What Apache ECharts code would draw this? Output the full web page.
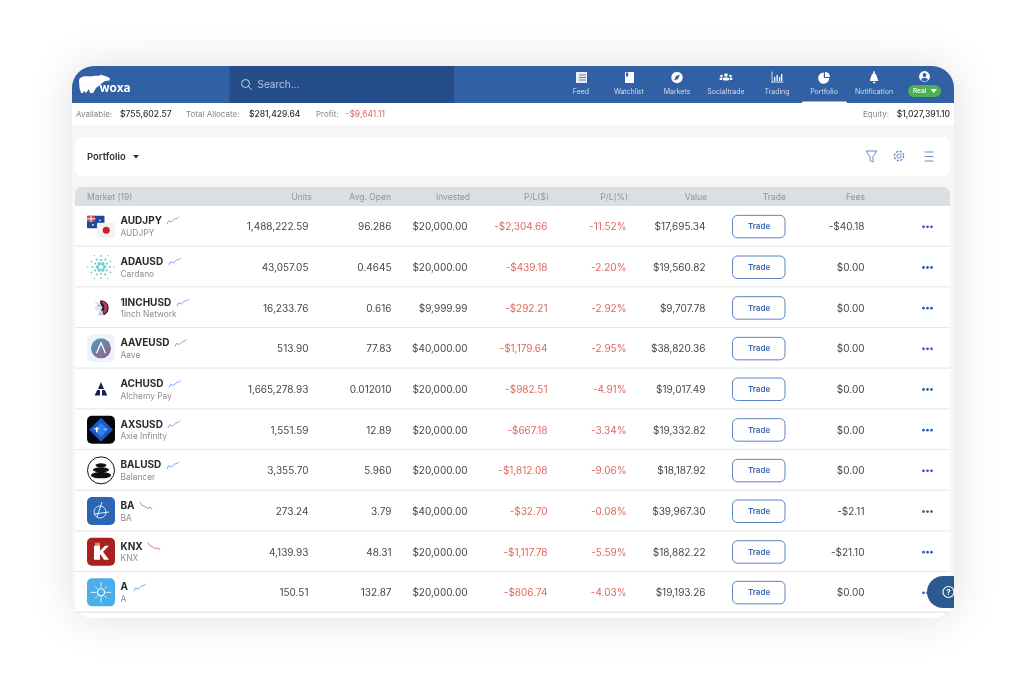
<!DOCTYPE html>
<html><head><meta charset="utf-8"><title>Portfolio</title>
<style>html,body{margin:0;padding:0;background:#fff}#c{width:1026px;height:696px}</style>
<script src="https://cdn.jsdelivr.net/npm/echarts@6/dist/echarts.min.js"></script></head>
<body><div id="c"></div>
<script>
const symbols=['AUDJPY','ADAUSD','1INCHUSD','AAVEUSD','ACHUSD','AXSUSD','BALUSD','BA','KNX','A'];
const fullNames=['AUDJPY','Cardano','1inch Network','Aave','Alchemy Pay','Axie Infinity','Balancer','BA','KNX','A'];
const units=['1,488,222.59','43,057.05','16,233.76','513.90','1,665,278.93','1,551.59','3,355.70','273.24','4,139.93','150.51'];
const avgOpen=['96.286','0.4645','0.616','77.83','0.012010','12.89','5.960','3.79','48.31','132.87'];
const invested=['$20,000.00','$20,000.00','$9,999.99','$40,000.00','$20,000.00','$20,000.00','$20,000.00','$40,000.00','$20,000.00','$20,000.00'];
const plUsd=['-$2,304.66','-$439.18','-$292.21','-$1,179.64','-$982.51','-$667.18','-$1,812.08','-$32.70','-$1,117.78','-$806.74'];
const plPct=['-11.52%','-2.20%','-2.92%','-2.95%','-4.91%','-3.34%','-9.06%','-0.08%','-5.59%','-4.03%'];
const marketValue=['$17,695.34','$19,560.82','$9,707.78','$38,820.36','$19,017.49','$19,332.82','$18,187.92','$39,967.30','$18,882.22','$19,193.26'];
const fees=['-$40.18','$0.00','$0.00','$0.00','$0.00','$0.00','$0.00','-$2.11','-$21.10','$0.00'];
const trendUp=[0.8,3.2,4.2,2.4,3.8,4.5,3.2,5.2,6.4];
const trendDown=[6.4,4.4,5.0,3.2,4.3,2.0,3.2,2.4,0.8];
const rowTrend=['up','up','up','up','up','up','up','down','down','up'];
const navLabels=['Feed','Watchlist','Markets','Socialtrade','Trading','Portfolio','Notification'];
const tableHeaders=['Units','Avg. Open','Invested','P/L($)','P/L(%)','Value','Trade','Fees'];

// layout (separate from the data)
const FONT='Inter';
const headerRight=[312,391,470,549,628,707,786,865];
const cellRight={units:308.5,avg:391.5,inv:467.5,pl:547.5,pct:626.5,val:705.5,fees:864.5};
const sparkX=[167,169,177,175,169,168,167,140,148,134];
const sparkY=[216.5,257.5,298.5,339,380,420.5,461.5,502,542.5,583.5];
const navX=[581,629,677,726,777,824,874];
const BLUE='#3160a4',NAVBLUE='#254d8a',RED='#e0685e',TXT='#474747',SUB='#8d8d8d';

function T(x,y,text,size,fill,weight,align){return{type:'text',x,y,silent:true,style:{text,fontFamily:FONT,fontSize:size,fontWeight:weight||400,fill,align:align||'left',verticalAlign:'middle'}};}
function R(x,y,w,h,fill,r,extra){return Object.assign({type:'rect',shape:{x,y,width:w,height:h,r:r||0},silent:true,style:{fill}},extra||{});}
function C(x,y,r,fill,extra){return Object.assign({type:'circle',shape:{cx:x,cy:y,r},silent:true,style:{fill}},extra||{});}
function L(x1,y1,x2,y2,stroke,w){return{type:'line',shape:{x1,y1,x2,y2},silent:true,style:{stroke,lineWidth:w||1,lineCap:'round'}};}
function P(d,fill,stroke,w){return{type:'path',shape:{pathData:d},silent:true,style:{fill:fill||'none',stroke:stroke||'none',lineWidth:w||1}};}
function PG(pts,fill){return{type:'polygon',shape:{points:pts},silent:true,style:{fill}};}

const chrome=[
 R(72,66,882,552,'#f6f6f6',22,{style:{fill:'#f6f6f6',shadowBlur:46,shadowColor:'rgba(0,0,0,0.13)'}}),
 R(75,600,875,18,'#ffffff',[0,0,16,16]),
 R(72,66,882,37,BLUE,[22,22,0,0]),
 R(229.5,66,224.5,37,NAVBLUE),
 R(72,103,882,22,'#ffffff'),
 R(802,101.6,45,1.6,'#ffffff',[1,1,0,0]),
 // logo
 P('M79 81C79 77 84 75.5 90 76.5C94 75.5 98 76 100 75.5L101 74.5L103 75.5C106 75.8 108 77 110 78.5L109.5 80.5L105 81C103 82 101 84 100 85L96 88L93 93L90 93L89 89L86 93L84 91L83 93L81 93L79.5 88Z','#ffffff'),
 T(99.5,88.5,'woxa',12,'#ffffff',700),
 // search
 {type:'circle',shape:{cx:245.5,cy:83.5,r:4},silent:true,style:{fill:'none',stroke:'#c9d4e6',lineWidth:1}},
 L(248.5,86.5,251.5,89.5,'#c9d4e6',1),
 T(257.5,84.5,'Search...',10,'#b6c4da'),
 // info bar
 T(76,114.5,'Available:',8,'#858585'),T(120,114.5,'$755,602.57',8.5,'#2f2f2f',500),
 T(186,114.5,'Total Allocate:',8,'#858585'),T(249,114.5,'$281,429.64',8.5,'#2f2f2f',500),
 T(316,114.5,'Profit:',8,'#858585'),T(345.5,114.5,'-$9,641.11',8.5,RED),
 T(889,114.5,'Equity:',8,'#858585',400,'right'),T(950,114.5,'$1,027,391.10',8.5,'#2f2f2f',500,'right'),
 // panel
 R(75,137,875,39,'#ffffff',7),
 T(87,157,'Portfolio',9.5,'#333',600),
 PG([[133,155],[139,155],[136,158.5]],'#333'),
 P('M866 151H877L873 156.5V162L870 160.5V156.5Z',null,'#5a7fb8',0.9),
 C(899,156,2.1,'none',{style:{fill:'none',stroke:'#5a7fb8',lineWidth:0.9}}),
 C(899,156,4.6,'none',{style:{fill:'none',stroke:'#5a7fb8',lineWidth:1.3,lineDash:[2.2,1.4]}}),
 L(925,152,933,152,'#5a7fb8',0.9),L(925,156.5,933,156.5,'#5a7fb8',0.9),L(925,161,933,161,'#5a7fb8',0.9),
 // table header
 R(75,187,875,20,'#dcdfe1',[7,7,0,0]),
 T(87,197.5,'Market (19)',8.5,'#949494'),
 // nav icons
 R(576,72,3,11,'#e8eef7'),R(578,72,9,11,'#e8eef7'),L(579.5,75,585.5,75,BLUE,.8),L(579.5,77.5,585.5,77.5,BLUE,.8),L(579.5,80,585.5,80,BLUE,.8),
 R(625,72,9,11,'#ffffff',.5),R(626,72.5,2.2,4,BLUE),
 C(677,77.5,5.7,'#fff'),PG([[680,74.5],[678,79],[674,80.5],[676,76]],BLUE),
 C(726,75,1.8,'#fff'),C(721.5,76,1.3,'#fff'),C(730.5,76,1.3,'#fff'),
 R(723,77.5,6,3,'#fff',1.2),R(719.5,77.7,3,2.3,'#fff',1),R(729.5,77.7,3,2.3,'#fff',1),
 L(772,72,772,82,'#fff',.8),L(772,82,783,82,'#fff',.9),R(774,77,1.3,4,'#fff'),R(776.5,75,1.3,6,'#fff'),R(779,77,1.3,4,'#fff'),R(781,74,1.3,7,'#fff'),
 P('M823.8 72.5V78H829.3A5.6 5.6 0 1 1 823.8 72.5Z','#fff'),P('M825 72A5 5 0 0 1 830 77H825Z','#fff'),
 P('M869.7 81C871 79 870.5 74 874 73C877.5 74 877 79 878.5 81Z','#fff'),C(874,72.2,.9,'#fff'),R(872.8,81.8,2.6,1.4,'#fff',.7),
 C(924.5,76.5,5.4,'#fff'),C(924.5,75,1.9,BLUE),P('M921 80A3.6 3 0 0 1 928 80A5 5 0 0 1 921 80Z',BLUE),
 R(908,85,33,12,'#4caf50',6),T(913,91.2,'Real',6.5,'#fff',500),PG([[930.5,89],[937,89],[933.75,93]],'#fff')
];
navLabels.forEach((s,i)=>chrome.push(T(navX[i],91.5,s,7,'#d3dded',400,'center')));
tableHeaders.forEach((s,i)=>chrome.push(T(headerRight[i],197.5,s,8.5,'#949494',400,'right')));

const bubble=[
 R(927,576,27,32,'#2c5a8f',[16,0,0,16]),
 {type:'circle',shape:{cx:948.5,cy:592,r:5.5},silent:true,style:{fill:'none',stroke:'#fff',lineWidth:1.2}},
 T(948.5,592.3,'?',8,'#fff',700,'center')
];

function iconFor(i){
 const rr=(fill)=>R(-14,-14,28,28,fill,5);
 switch(symbols[i]){
 case 'AUDJPY':return[R(-14,-10.5,17.5,12.5,'#1f4a9c',1),R(-14,-10.5,8,6,'#c9475a'),L(-14,-7.5,-6,-7.5,'#fff',1),L(-10,-10.5,-10,-4.5,'#fff',1),C(-1,-6,.8,'#fff'),C(-8,-1.5,.9,'#fff'),R(-4,-3.5,18,15,'#f2f2f2',1),C(5.2,4,3.5,'#d6182a')];
 case 'ADAUSD':{const o=[];const t='#72d0cb';
  [[0,6,3.6,1.8],[30,6,6.8,1.1],[0,6,8.6,1.1],[30,6,11,.9],[0,6,13.2,.75]].forEach(a=>{for(let k=0;k<a[1];k++){const g=(a[0]+k*360/a[1])*Math.PI/180;o.push(C(Math.cos(g)*a[2],Math.sin(g)*a[2],a[3],t));}});
  return o;}
 case '1INCHUSD':return[P('M-1 -7C3 -8 7 -5 7.5 -1C8 3 6 6 3 7.5L0 4Z','#1b2240'),P('M1 -6.5C4 -6.5 6.5 -3.5 6.5 -0.5C6.5 2 5 4.5 3 6L2 4C4 2 4 -3 1 -5Z','#c9384b'),P('M-7 -7L-1 -4.5L1.5 0L0 2.5L-2 1.5L-5 3.5L-6.5 1L-4 -3Z','#dfe0ea'),P('M-3 7.5L-0.5 1.5L2 4L1.5 8Z','#c9cada'),C(-2,-2.2,.6,'#1b2240')];
 case 'AAVEUSD':return[R(-14,-14,28,28,'#eef2fb',6),C(0,0,10,'#6f84a8',{style:{fill:new echarts.graphic.LinearGradient(0,0,1,1,[{offset:0,color:'#43a7b8'},{offset:1,color:'#a0558f'}])}}),P('M-4.5 5L0 -5.5L4.5 5',null,'#fff',1.3)];
 case 'ACHUSD':return[PG([[0,-7],[3,0],[-3,0]],'#141e52'),PG([[-3.8,1],[-1,1],[-1,6.5],[-6.3,6.5]],'#141e52'),PG([[3.8,1],[1,1],[1,6.5],[6.3,6.5]],'#141e52')];
 case 'AXSUSD':return[R(-14,-14,28,28,'#05070d',5),PG([[0,-12],[12,0],[0,12],[-12,0]],'#1f55c4'),PG([[0,-7],[7,0],[0,7],[-7,0]],'#2f82e8'),R(-5,-2.5,1.4,5,'#fff'),R(3.5,-1,2.2,1.2,'#cfe3ff'),L(-6.5,-1,-2.5,-1,'#fff',1)];
 case 'BALUSD':return[C(0,0,13.5,'#fff',{style:{fill:'#fff',stroke:'#111',lineWidth:1}}),{type:'ellipse',shape:{cx:0,cy:-5,rx:5.5,ry:2.2},silent:true,style:{fill:'#111'}},{type:'ellipse',shape:{cx:0,cy:-.5,rx:8,ry:2.6},silent:true,style:{fill:'#111'}},{type:'ellipse',shape:{cx:0,cy:4.8,rx:10,ry:3.2},silent:true,style:{fill:'#111'}}];
 case 'BA':return[rr('#2b66b5'),{type:'circle',shape:{cx:-1,cy:1,r:6},silent:true,style:{fill:'none',stroke:'#e6eefa',lineWidth:.9}},P('M-7 3L8 1M1 -9L-4 6',null,'#fff',.9)];
 case 'KNX':return[rr('#a82020'),R(-6,-9,5,3.5,'#e8875a'),P('M-7 -6H-1V-1L4 -6H8L2 0L8 8H3L-1 2V8H-7Z','#ffffff')];
 case 'A':{const o=[rr('#49aeea'),C(0,0,3.6,'none',{style:{fill:'none',stroke:'#fff',lineWidth:1.2}})];
  for(let k=0;k<8;k++){const g=k*Math.PI/4;o.push(L(Math.cos(g)*5.2,Math.sin(g)*5.2,Math.cos(g)*(k%2?8:10),Math.sin(g)*(k%2?8:10),'#e6f4ff',.9));}
  return o;}
 }
 return[];
}

function renderRow(params,api){
 const i=params.dataIndex,pt=api.coord([0,i]),y=pt[1];
 const c=(x,s,col)=>T(x,0.9,s,10,col||TXT,400,'right');
 return{type:'group',y,children:[
  R(75,-20.3,875,40.6,'#ffffff'),
  R(75,19.2,875,1.5,'#e9e9e9'),
  {type:'group',x:101,y:0,children:iconFor(i)},
  T(120.5,-4.9,symbols[i],10,'#2a2a2a',700),
  T(120.5,7.2,fullNames[i],8.4,SUB),
  c(cellRight.units,units[i]),c(cellRight.avg,avgOpen[i]),c(cellRight.inv,invested[i]),
  c(cellRight.pl,plUsd[i],RED),c(cellRight.pct,plPct[i],RED),c(cellRight.val,marketValue[i]),
  {type:'rect',shape:{x:732.5,y:-11,width:52.5,height:22.5,r:5},silent:true,style:{fill:'#fff',stroke:'#5a83c2',lineWidth:1}},
  T(759,.5,'Trade',8,'#3a69ad',600,'center'),
  c(cellRight.fees,fees[i]),
  C(923.5,.5,1.4,'#2f5ea8'),C(927.5,.5,1.4,'#2f5ea8'),C(931.5,.5,1.4,'#2f5ea8')
 ]};
}

const grid=[{left:0,top:206,width:1026,height:406.7}];
const xAxis=[{type:'value',gridIndex:0,min:0,max:1026,show:false}];
const yAxis=[{type:'category',gridIndex:0,inverse:true,data:symbols,show:false}];
const series=[
 {type:'custom',name:'Chrome',coordinateSystem:'none',z:1,silent:true,clip:false,data:[0],animation:false,
  renderItem:()=>({type:'group',children:chrome})},
 {type:'custom',name:'Positions',xAxisIndex:0,yAxisIndex:0,clip:false,z:2,silent:true,
  data:symbols.map((s,i)=>[0,i]),renderItem:renderRow,animation:false},
 {type:'custom',name:'Help',coordinateSystem:'none',z:20,silent:true,clip:false,data:[0],animation:false,
  renderItem:()=>({type:'group',children:bubble})}
];
symbols.forEach((s,i)=>{
 const g=i+1,up=rowTrend[i]==='up';
 grid.push({left:sparkX[i],top:sparkY[i],width:12,height:8});
 xAxis.push({type:'category',gridIndex:g,show:false,boundaryGap:false,data:trendUp.map((v,k)=>k)});
 yAxis.push({type:'value',gridIndex:g,show:false,min:0.5,max:6.5});
 series.push({type:'line',name:s+' trend',xAxisIndex:g,yAxisIndex:g,data:up?trendUp:trendDown,showSymbol:false,silent:true,z:5,clip:false,
  lineStyle:{width:1,color:up?'#78a9f0':'#e4786c'},animation:false});
});

const chart=echarts.init(document.getElementById('c'),null,{renderer:'canvas'});
chart.setOption({animation:false,backgroundColor:'#ffffff',tooltip:{show:false},legend:{show:false},grid,xAxis,yAxis,series});
</script></body></html>
